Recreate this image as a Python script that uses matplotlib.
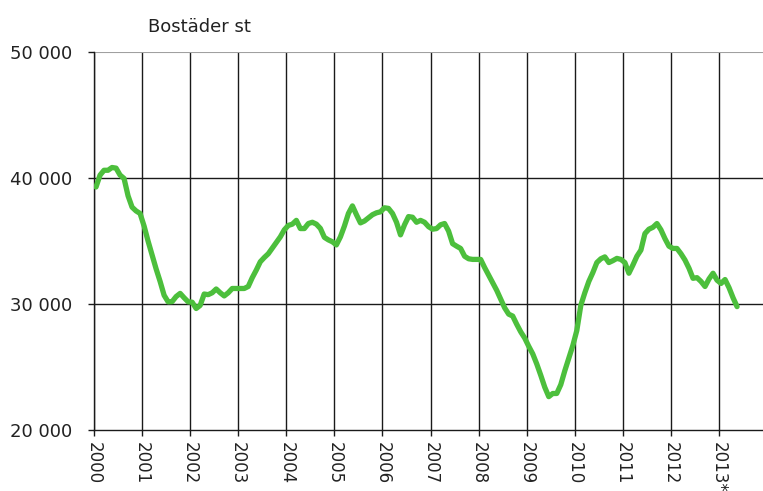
import matplotlib
matplotlib.use('Agg')
import numpy as np
import matplotlib.pyplot as plt

# tick positions and labels
years = list(range(2000, 2014))
year_labels = [str(y) for y in years[:-1]] + ['2013*']
y_ticks = [20000, 30000, 40000, 50000]
y_labels = ['20 000', '30 000', '40 000', '50 000']

# monthly values (bostäder, st)
v2000 = [39300, 40240, 40630, 40630, 40850, 40800, 40250, 39980, 38600, 37700, 37400, 37200]
v2001 = [36200, 35000, 33900, 32800, 31800, 30700, 30180, 30200, 30600, 30850, 30500, 30180]
v2002 = [30150, 29650, 29900, 30800, 30750, 30900, 31200, 30900, 30650, 30900, 31240, 31240]
v2003 = [31240, 31240, 31400, 32100, 32700, 33360, 33700, 34000, 34450, 34900, 35340, 35900]
v2004 = [36250, 36350, 36650, 36000, 36000, 36400, 36500, 36350, 36010, 35300, 35100, 34950]
v2005 = [34700, 35340, 36200, 37200, 37800, 37100, 36450, 36600, 36850, 37100, 37250, 37330]
v2006 = [37650, 37600, 37200, 36500, 35500, 36300, 36950, 36900, 36500, 36650, 36500, 36150]
v2007 = [35950, 36000, 36300, 36400, 35800, 34800, 34600, 34420, 33800, 33600, 33550, 33550]
v2008 = [33550, 32900, 32300, 31700, 31100, 30400, 29700, 29200, 29050, 28400, 27800, 27300]
v2009 = [26650, 26050, 25250, 24350, 23400, 22650, 22900, 22900, 23600, 24700, 25700, 26700]
v2010 = [27900, 29900, 30900, 31800, 32500, 33300, 33600, 33750, 33300, 33450, 33630, 33550]
v2011 = [33300, 32450, 33100, 33800, 34290, 35600, 35950, 36100, 36400, 35900, 35200, 34600]
v2012 = [34420, 34420, 34000, 33500, 32850, 32050, 32100, 31800, 31400, 32000, 32450, 31900]
v2013 = [31640, 31950, 31300, 30500, 29800]

values = (v2000 + v2001 + v2002 + v2003 + v2004 + v2005 + v2006 + v2007
          + v2008 + v2009 + v2010 + v2011 + v2012 + v2013)
months = np.arange(len(values))
xpos = 2000 + (months + 0.5) / 12.0

plt.rcParams['font.family'] = 'DejaVu Sans'

W, H = 763, 491
fig = plt.figure(figsize=(W / 100.0, H / 100.0), dpi=100)
left, right, top, bottom = 94, 763, 52.3, 430
ax = fig.add_axes([left / W, 1 - bottom / H, (right - left) / W, (bottom - top) / H])

ax.set_xlim(2000, 2000 + (right - left) / 48.08)
ax.set_ylim(20000, 50000)

# grid
for yr in years:
    ax.axvline(yr, color='#1a1a1a', lw=1.0, zorder=1)
ax.axhline(30000, color='#1a1a1a', lw=1.0, zorder=1)
ax.axhline(40000, color='#1a1a1a', lw=1.0, zorder=1)
ax.axhline(50000, color='#a0a0a0', lw=1.5, zorder=1)

ax.plot(xpos, values, color='#4cbf3c', lw=3.8, solid_capstyle='round',
        solid_joinstyle='round', zorder=3)

for s in ['top', 'right']:
    ax.spines[s].set_visible(False)
ax.spines['left'].set_color('#1a1a1a')
ax.spines['bottom'].set_color('#1a1a1a')
ax.spines['left'].set_linewidth(1.0)
ax.spines['bottom'].set_linewidth(1.0)

ax.set_xticks(years)
ax.set_xticklabels(year_labels, rotation=270, ha='center', va='top')
ax.set_yticks(y_ticks)
ax.set_yticklabels(y_labels)
ax.tick_params(axis='x', direction='out', length=4.3, width=1.0, color='#1a1a1a',
               labelsize=12, pad=4, labelcolor='#222222')
ax.tick_params(axis='y', direction='out', length=4.3, width=1.0, color='#1a1a1a',
               labelsize=13, pad=11, labelcolor='#222222')

fig.text(148 / W, 1 - 32 / H, 'Bostäder st', fontsize=13, color='#222222',
         ha='left', va='baseline')

fig.savefig('out.png', dpi=100)
